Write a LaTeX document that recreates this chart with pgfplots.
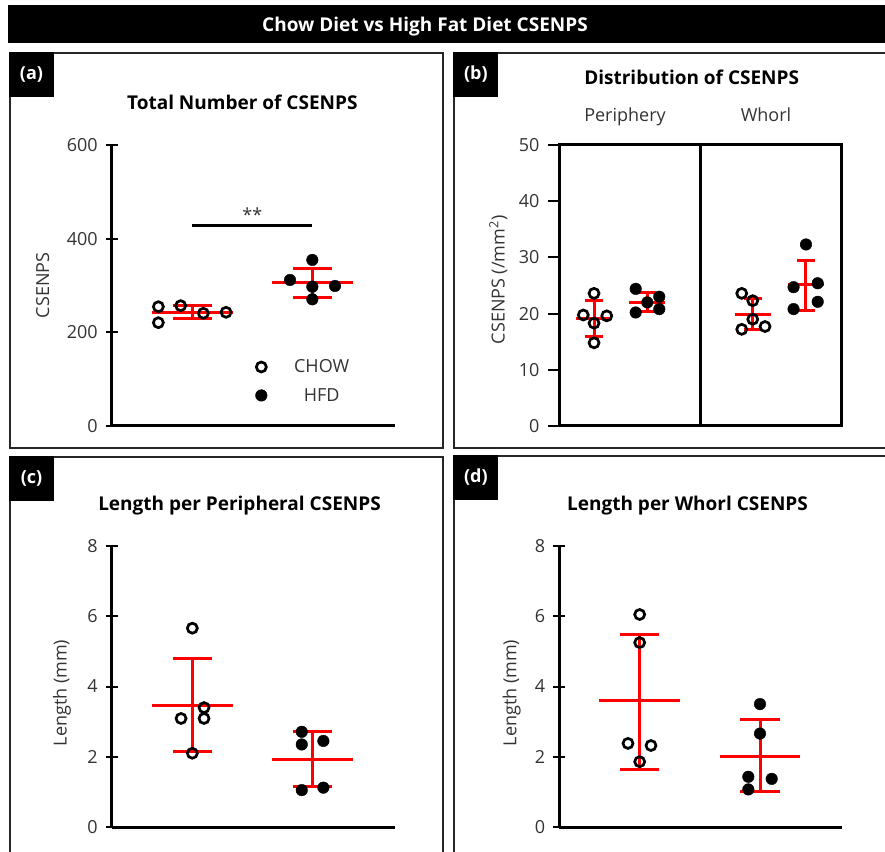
\documentclass[border=0pt]{standalone}
\usepackage{fontspec}
\setmainfont{Open Sans}
\usepackage{pgfplots}
\pgfplotsset{compat=1.18}
\definecolor{tickgray}{HTML}{333333}

\newcommand{\tickfont}{\fontsize{18}{21}\selectfont}
\newcommand{\titlefont}{\bfseries\fontsize{19}{22}\selectfont}

\pgfplotsset{
  panel/.style={
    scale only axis, clip=false,
    xtick=\empty,
    ytick style={line width=2pt, black},
    tick align=outside, major tick length=11.7pt,
    /pgf/number format/assume math mode=true,
    yticklabel style={font=\tickfont, text=tickgray, inner sep=3pt, xshift=-5pt},
    ylabel style={font=\tickfont, text=tickgray, anchor=center},
  },
  lines/.style={axis x line=bottom, axis y line=left, axis line style={-, line width=3pt}},
  chow/.style={only marks, mark=o, mark size=5pt, line width=2.7pt, black},
  hfd/.style={only marks, mark=*, mark size=5.8pt, black},
  errbar/.style={red, line width=3pt, no marks, unbounded coords=jump, forget plot},
}

\begin{document}
\begin{tikzpicture}
\useasboundingbox (0,0) rectangle (885pt,851pt);
\clip (0,0) rectangle (885pt,851pt);

% header bar
\fill[black] (8pt,808pt) rectangle (890pt,846pt);
\node[text=white, font=\titlefont, anchor=base] at (425pt,819pt) {Chow Diet vs High Fat Diet CSENPS};

% panel frames
\draw[line width=2pt, black!85] (10pt,798pt) rectangle (443.3pt,403pt);
\draw[line width=2pt, black!85] (454.3pt,798pt) rectangle (892pt,403pt);
\draw[line width=2pt, black!85] (10pt,394.3pt) rectangle (443.3pt,-5pt);
\draw[line width=2pt, black!85] (454.3pt,395pt) rectangle (892pt,-5pt);

% panel tags
\fill[black] (9pt,799pt) rectangle (54pt,753.7pt);
\node[text=white, font=\bfseries\fontsize{18}{20}\selectfont] at (31.5pt,776.5pt) {(a)};
\fill[black] (453.3pt,799pt) rectangle (498.3pt,754pt);
\node[text=white, font=\bfseries\fontsize{18}{20}\selectfont] at (475.8pt,776.5pt) {(b)};
\fill[black] (9pt,395.3pt) rectangle (54pt,350.3pt);
\node[text=white, font=\bfseries\fontsize{18}{20}\selectfont] at (31.5pt,372.8pt) {(c)};
\fill[black] (453.3pt,396pt) rectangle (498.3pt,351pt);
\node[text=white, font=\bfseries\fontsize{18}{20}\selectfont] at (475.8pt,373.5pt) {(d)};

% panel titles
\node[font=\titlefont, anchor=base] at (242.3pt,741pt) {Total Number of CSENPS};
\node[font=\titlefont, anchor=base] at (691.7pt,766pt) {Distribution of CSENPS};
\node[font=\titlefont, anchor=base] at (239.5pt,340pt) {Length per Peripheral CSENPS};
\node[font=\titlefont, anchor=base] at (687.5pt,340pt) {Length per Whorl CSENPS};
\node[font=\tickfont, text=tickgray, anchor=base] at (625pt,729pt) {Periphery};
\node[font=\tickfont, text=tickgray, anchor=base] at (766pt,729pt) {Whorl};

% (a) total number
\begin{axis}[panel, lines, at={(111.7pt,425.3pt)}, anchor=south west,
  width=283.3pt, height=280.7pt,
  xmin=0.328, xmax=2.689, ymin=0, ymax=600, ytick={0,200,400,600},
  ylabel={CSENPS}, ylabel style={at={(axis description cs:-0.244,0.5)}},
  legend cell align=center,
  legend style={draw=none, fill=none, font=\tickfont, text=tickgray,
    at={(axis cs:1.5,150)}, anchor=north west, row sep=10pt,
    /tikz/every odd column/.append style={column sep=25pt}},
]
\addplot[chow] coordinates {(0.717,254.4) (0.717,220.2) (0.903,256.6) (1.092,240.3) (1.281,242.4)};
\addlegendentry{CHOW}
\addplot[hfd] coordinates {(1.814,311.5) (2,354.3) (2,297.2) (2.189,298.7) (2,270.2)};
\addlegendentry{HFD}
\addplot[errbar] table[row sep=\\] {
x y\\
0.66 242.4\\ 1.34 242.4\\ nan nan\\
0.836 255.9\\ 1.164 255.9\\ nan nan\\
0.836 229.6\\ 1.164 229.6\\ nan nan\\
1 229.6\\ 1 255.9\\ nan nan\\
1.66 306.6\\ 2.34 306.6\\ nan nan\\
1.836 336.5\\ 2.164 336.5\\ nan nan\\
1.836 274.5\\ 2.164 274.5\\ nan nan\\
2 274.5\\ 2 336.5\\
};
\addplot[black, line width=3pt, forget plot] coordinates {(1,427) (2,427)};
\node[font=\tickfont, text=tickgray, anchor=base] at (axis cs:1.5,436) {**};
\end{axis}

% (b) distribution
\begin{axis}[panel, at={(559.3pt,425pt)}, anchor=south west,
  width=282.4pt, height=281pt,
  axis line style={line width=3pt},
  ytick pos=left,
  xmin=0, xmax=2, ymin=0, ymax=50, ytick={0,10,...,50},
  ylabel={CSENPS (/mm\textsuperscript{2})}, ylabel style={at={(axis description cs:-0.216,0.52)}},
]
\addplot[black, line width=3pt, forget plot] coordinates {(1,0) (1,50)};
\addplot[chow] coordinates {(0.246,23.6) (0.170,19.75) (0.336,19.6) (0.246,18.3) (0.246,14.8)};
\addplot[hfd] coordinates {(0.541,24.4) (0.541,20.2) (0.623,22.0) (0.708,23.0) (0.708,20.8)};
\addplot[chow] coordinates {(1.292,23.6) (1.370,22.3) (1.370,19.0) (1.292,17.2) (1.457,17.7)};
\addplot[hfd] coordinates {(1.747,32.3) (1.659,24.7) (1.830,25.4) (1.830,22.1) (1.659,20.8)};
\addplot[errbar] table[row sep=\\] {
x y\\
0.119 19.2\\ 0.373 19.2\\ nan nan\\
0.184 22.4\\ 0.308 22.4\\ nan nan\\
0.184 16.0\\ 0.308 16.0\\ nan nan\\
0.246 16.0\\ 0.246 22.4\\ nan nan\\
0.496 22.0\\ 0.750 22.0\\ nan nan\\
0.561 23.7\\ 0.685 23.7\\ nan nan\\
0.561 20.4\\ 0.685 20.4\\ nan nan\\
0.623 20.4\\ 0.623 23.7\\ nan nan\\
1.243 19.9\\ 1.497 19.9\\ nan nan\\
1.308 22.7\\ 1.432 22.7\\ nan nan\\
1.308 17.1\\ 1.432 17.1\\ nan nan\\
1.370 17.1\\ 1.370 22.7\\ nan nan\\
1.620 25.1\\ 1.874 25.1\\ nan nan\\
1.685 29.4\\ 1.809 29.4\\ nan nan\\
1.685 20.6\\ 1.809 20.6\\ nan nan\\
1.747 20.6\\ 1.747 29.4\\
};
\end{axis}

% (c) length per peripheral
\begin{axis}[panel, lines, at={(111.7pt,24pt)}, anchor=south west,
  width=283.3pt, height=281pt,
  xmin=0.328, xmax=2.689, ymin=0, ymax=8, ytick={0,2,4,6,8},
  ylabel={Length (mm)}, ylabel style={at={(axis description cs:-0.176,0.477)}},
]
\addplot[chow] coordinates {(1,5.66) (1.0975,3.40) (0.906,3.09) (1.0975,3.09) (1,2.10)};
\addplot[hfd] coordinates {(1.912,2.71) (1.912,2.35) (2.092,2.45) (1.912,1.05) (2.092,1.12)};
\addplot[errbar] table[row sep=\\] {
x y\\
0.66 3.45\\ 1.34 3.45\\ nan nan\\
0.836 4.79\\ 1.164 4.79\\ nan nan\\
0.836 2.14\\ 1.164 2.14\\ nan nan\\
1 2.14\\ 1 4.79\\ nan nan\\
1.66 1.93\\ 2.34 1.93\\ nan nan\\
1.836 2.73\\ 2.164 2.73\\ nan nan\\
1.836 1.15\\ 2.164 1.15\\ nan nan\\
2 1.15\\ 2 2.73\\
};
\end{axis}

% (d) length per whorl
\begin{axis}[panel, lines, at={(559.3pt,24pt)}, anchor=south west,
  width=282.4pt, height=281pt,
  xmin=0.332, xmax=2.679, ymin=0, ymax=8, ytick={0,2,4,6,8},
  ylabel={Length (mm)}, ylabel style={at={(axis description cs:-0.169,0.477)}},
]
\addplot[chow] coordinates {(1,6.05) (1,5.25) (0.903,2.38) (1.094,2.32) (1,1.86)};
\addplot[hfd] coordinates {(2,3.50) (2,2.66) (1.903,1.43) (2.097,1.37) (1.903,1.07)};
\addplot[errbar] table[row sep=\\] {
x y\\
0.665 3.59\\ 1.335 3.59\\ nan nan\\
0.836 5.49\\ 1.164 5.49\\ nan nan\\
0.836 1.65\\ 1.164 1.65\\ nan nan\\
1 1.65\\ 1 5.49\\ nan nan\\
1.665 2.02\\ 2.335 2.02\\ nan nan\\
1.836 3.05\\ 2.164 3.05\\ nan nan\\
1.836 1.00\\ 2.164 1.00\\ nan nan\\
2 1.00\\ 2 3.05\\
};
\end{axis}
\end{tikzpicture}
\end{document}
